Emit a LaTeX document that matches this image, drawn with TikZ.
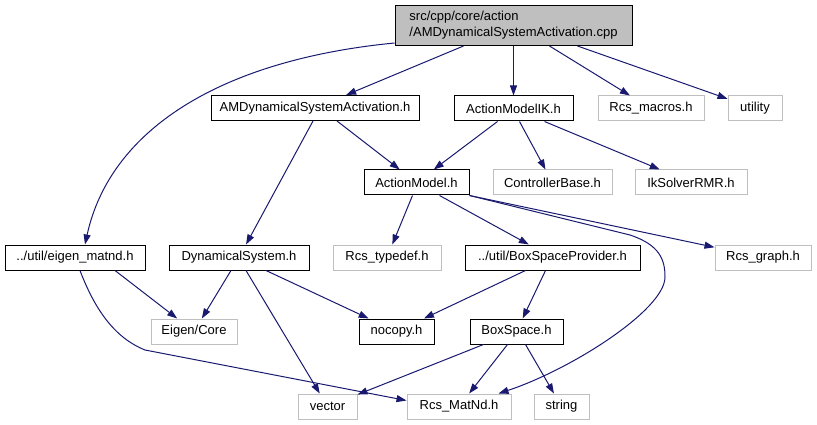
\documentclass[tikz,border=0pt]{standalone}
\usepackage{fontspec}
\setmainfont{Liberation Sans}
\usetikzlibrary{arrows.meta}
\definecolor{navyedge}{RGB}{25,25,112}
\definecolor{graybd}{RGB}{191,191,191}
\begin{document}
\begin{tikzpicture}[x=1pt,y=-1pt,
  box/.style={rectangle, minimum height=25pt, inner sep=0pt, font=\fontsize{13}{16}\selectfont, line width=1pt},
  blk/.style={box, draw=black},
  gry/.style={box, draw=graybd},
  edge/.style={draw=navyedge, line width=1pt, -{Triangle[length=10pt,width=7pt]}}
]
\useasboundingbox (0,0) rectangle (817,425);
% nodes
\node[blk, fill=graybd, minimum width=237pt, minimum height=40pt, align=left] (root) at (513.5,25.5) {src/cpp/core/action\\/AMDynamicalSystemActivation.cpp};
\node[blk, minimum width=208pt] (amdsa) at (315,108) {AMDynamicalSystemActivation.h};
\node[blk, minimum width=119pt] (amik) at (513.5,108.5) {ActionModelIK.h};
\node[gry, minimum width=106pt] (macros) at (651,108.5) {Rcs\_macros.h};
\node[gry, minimum width=54pt] (utility) at (755,108.5) {utility};
\node[blk, minimum width=105pt] (am) at (416.5,182.5) {ActionModel.h};
\node[gry, minimum width=119pt] (ctrl) at (552.5,182.5) {ControllerBase.h};
\node[gry, minimum width=112pt] (ik) at (691,182.5) {IkSolverRMR.h};
\node[blk, minimum width=140pt] (eig) at (75,257.5) {../util/eigen\_matnd.h};
\node[blk, minimum width=140pt] (ds) at (239,257.5) {DynamicalSystem.h};
\node[gry, minimum width=108pt] (typedef) at (387,257.5) {Rcs\_typedef.h};
\node[blk, minimum width=175pt] (bsp) at (552.5,257.5) {../util/BoxSpaceProvider.h};
\node[gry, minimum width=96pt] (graph) at (763,257.5) {Rcs\_graph.h};
\node[gry, minimum width=86pt] (core) at (194,331.5) {Eigen/Core};
\node[blk, minimum width=75pt] (nocopy) at (396.5,331.5) {nocopy.h};
\node[blk, minimum width=93pt] (bs) at (516.5,331.5) {BoxSpace.h};
\node[gry, minimum width=59pt] (vector) at (327.5,406.5) {vector};
\node[gry, minimum width=104pt] (matnd) at (459,406.5) {Rcs\_MatNd.h};
\node[gry, minimum width=55pt] (string) at (561.5,406.5) {string};
% edges
\draw[edge] ([yshift=3pt]root.south west) .. controls (220,60) and (110,130) .. ([xshift=10pt]eig.north);
\draw[edge] ([xshift=-50pt]root.south) -- (amdsa);
\draw[edge] (root.south) -- (amik);
\draw[edge] ([xshift=36pt]root.south) -- (macros);
\draw[edge] ([xshift=64pt]root.south) -- (utility);
\draw[edge] ([xshift=22pt]amdsa.south) -- (am);
\draw[edge] ([xshift=-2pt]amdsa.south) -- (ds);
\draw[edge] ([xshift=-16pt]amik.south) -- (am);
\draw[edge] ([xshift=6pt]amik.south) -- (ctrl);
\draw[edge] ([xshift=31pt]amik.south) -- (ik);
\draw[edge] ([xshift=-4pt]am.south) -- (typedef);
\draw[edge] ([xshift=23pt]am.south) -- (bsp);
\draw[edge] (am.south east) -- (graph);
\draw[edge] (am.south east) -- (630,235) .. controls (660,245) and (665,260) .. (665,277) .. controls (665,310) and (570,370) .. ([xshift=-13pt]matnd.north east);
\draw[edge] ([xshift=40pt]eig.south) -- (core);
\draw[edge] ([xshift=5pt]eig.south) .. controls (95,310) and (115,338) .. (145,350) -- ([yshift=6pt]matnd.west);
\draw[edge] ([xshift=-8pt]ds.south) -- (core);
\draw[edge] ([xshift=7pt]ds.south) -- (vector);
\draw[edge] ([xshift=27pt]ds.south) -- (nocopy);
\draw[edge] ([xshift=-27pt]bsp.south) -- (nocopy);
\draw[edge] ([xshift=-7pt]bsp.south) -- (bs);
\draw[edge] ([xshift=-33pt]bs.south) -- (vector);
\draw[edge] ([xshift=-9pt]bs.south) -- (matnd);
\draw[edge] ([xshift=9pt]bs.south) -- (string);
\end{tikzpicture}
\end{document}
